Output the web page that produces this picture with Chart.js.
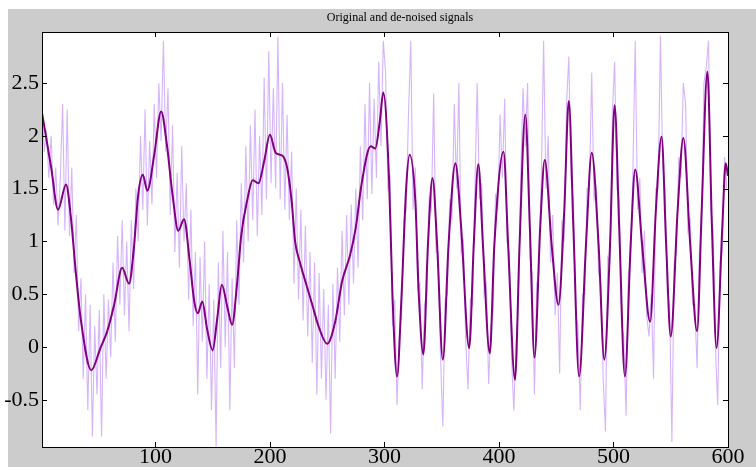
<!DOCTYPE html>
<html>
<head>
<meta charset="utf-8">
<script src="https://cdn.jsdelivr.net/npm/chart.js@4.4.1/dist/chart.umd.min.js"></script>
<style>
  html, body { margin: 0; padding: 0; background: #ffffff; }
  #box { width: 756px; height: 467px; }
</style>
</head>
<body>
<div id="box"><canvas id="sigChart" width="756" height="467"></canvas></div>
<script>
// titles
const chartTitle = 'Original and de-noised signals';

// axis ticks
const xTickValues = [100, 200, 300, 400, 500, 600];
const yTickValues = [-0.5, 0, 0.5, 1, 1.5, 2, 2.5];

// noisy signal, one value every 2 samples starting at 1
const noisyStart = 1;
const noisyStep = 2;
const noisyValues = [
  2.3, 1.85, 2.05, 1.6, 2.0, 1.35, 1.7, 1.15, 1.6, 2.3,
  1.1, 2.25, 1.05, 1.7, 0.7, 1.25, 0.15, 0.65, -0.3, 0.5,
  -0.6, 0.4, -0.85, 0.2, -0.45, 0.35, -0.85, 0.5, -0.3, 0.45,
  -0.1, 0.8, 0.05, 1.05, 0.4, 1.2, 0.3, 1.0, 0.15, 1.2,
  0.55, 1.5, 1.0, 2.0, 1.3, 2.25, 1.15, 1.95, 1.35, 2.3,
  1.6, 2.5, 1.95, 2.9, 1.85, 2.45, 1.25, 2.1, 0.9, 1.65,
  0.75, 1.9, 1.0, 1.55, 0.45, 1.3, 0.2, 0.9, -0.45, 0.85,
  0.05, 1.0, -0.3, 0.6, -0.6, 0.45, -0.95, 0.8, -0.2, 1.1,
  0.0, 0.9, -0.6, 0.65, -0.2, 1.2, 0.4, 1.55, 0.8, 1.9,
  1.0, 2.1, 1.2, 2.25, 1.05, 2.0, 1.25, 2.55, 1.4, 2.8,
  1.55, 2.45, 1.5, 2.94, 1.4, 2.5, 1.3, 2.2, 1.2, 1.85,
  0.6, 1.5, 0.45, 1.3, 0.25, 1.15, 0.1, 0.9, -0.15, 0.8,
  -0.45, 0.7, -0.3, 0.55, -0.5, 0.4, -0.82, 0.6, -0.3, 0.75,
  0.05, 1.1, 0.3, 1.25, 0.4, 1.35, 0.6, 1.5, 0.75, 1.9,
  1.2, 2.3, 1.4, 2.5, 1.45, 2.35, 1.6, 2.7, 1.9, 2.9,
  2.6, 1.5, 1.6, 0.2, 0.45, -0.55, 0.1, 0.3, 1.2, 1.3,
  2.2, 2.9, 1.3, 1.7, 0.55, 0.6, -0.4, 0.4, 0.5, 1.4,
  1.3, 2.4, 0.9, 0.9, -0.1, -0.75, 0.45, 0.5, 1.4, 1.2,
  2.3, 1.5, 2.5, 0.9, 1.0, 0.05, -0.4, 0.45, 0.4, 1.5,
  2.5, 1.4, 1.55, 0.5, 0.6, -0.35, 0.2, 0.35, 1.45, 1.3,
  2.2, 1.6, 2.35, 1.0, 0.9, -0.1, -0.6, 0.05, 0.4, 1.6,
  2.45, 1.9, 2.5, 0.85, 0.7, -0.45, 0.6, 0.7, 1.6, 2.9,
  1.5, 2.0, 0.8, 1.25, 0.3, 0.7, -0.25, 1.2, 1.0, 2.3,
  2.75, 1.6, 1.4, 0.3, 0.2, -0.6, 0.5, 0.5, 1.5, 1.5,
  2.6, 1.4, 1.5, 0.7, 0.6, -0.3, -0.8, 0.85, 0.8, 2.2,
  2.7, 1.5, 1.4, 0.2, 0.1, -0.65, 0.7, 0.8, 1.7, 2.9,
  1.3, 1.6, 0.7, 1.1, 0.3, 0.1, 0.5, -0.3, 1.5, 1.5,
  2.95, 1.7, 1.5, 0.5, 0.4, -0.9, 0.8, 0.9, 1.8, 1.6,
  2.5, 2.3, 1.1, 1.2, 0.4, 0.4, -0.2, 0.9, 1.1, 2.5,
  2.65, 2.9, 1.3, 1.1, 0.0, -0.55, 0.8, 0.9, 1.8, 1.5
];

// de-noised signal, read at its turning points
const denoisedX = [
  1, 9, 15, 22, 26, 31, 35, 44, 52, 58, 64, 71, 77, 81, 85, 89, 93, 99,
  105, 110, 115, 120, 125, 130, 134, 137, 141, 145, 150, 154, 158, 163, 167, 171, 175, 180, 185, 190, 195,
  200, 205, 211, 215, 219, 222, 226, 231, 237, 243, 250, 257, 263, 270, 275, 280, 288, 292, 296, 299,
  304, 307, 311, 315, 319, 322, 327, 330, 334, 338, 342, 346, 351, 356, 362, 367, 374, 378, 382, 386, 392, 396,
  404, 408, 414, 418, 423, 427, 431, 436, 440, 446, 452, 457, 461, 465, 470, 476, 481, 487, 492, 497,
  501, 505, 510, 515, 519, 525, 532, 537, 542, 546, 550, 556, 561, 567, 573, 577, 582, 586, 590, 595, 598, 600
];
const denoisedY = [
  2.22, 1.70, 1.30, 1.54, 1.25, 0.65, 0.25, -0.22, -0.01, 0.15, 0.40, 0.75, 0.60, 0.91, 1.44, 1.63, 1.48, 1.82,
  2.23, 1.92, 1.44, 1.10, 1.21, 0.81, 0.43, 0.32, 0.43, 0.18, -0.03, 0.27, 0.59, 0.37, 0.21, 0.56, 1.06, 1.38, 1.58, 1.55, 1.76,
  2.01, 1.84, 1.81, 1.70, 1.38, 1.00, 0.81, 0.62, 0.40, 0.18, 0.03, 0.24, 0.62, 0.87, 1.13, 1.54, 1.90, 1.88, 2.14, 2.41,
  1.60, 0.50, -0.28, 0.50, 1.51, 1.82, 1.38, 0.50, -0.07, 0.97, 1.60, 0.97, -0.12, 0.97, 1.74, 1.13, -0.01, 0.97, 1.73, 0.97, -0.06, 0.97,
  1.85, 0.97, -0.31, 0.97, 2.20, 1.13, -0.10, 1.13, 1.77, 0.97, 0.40, 1.29, 2.33, 1.13, -0.28, 0.97, 1.84, 0.97, -0.12, 0.97,
  2.29, 1.13, -0.28, 0.97, 1.68, 0.97, 0.24, 1.29, 1.99, 0.97, 0.10, 1.29, 1.98, 0.97, 0.15, 1.29, 2.61, 1.13, -0.01, 1.13, 1.74, 1.62
];

const yMin = -0.947;
const yMax = 2.983;

function build_points(xs, ys)
{
    var pts = [];
    for (var i = 0; i < ys.length; i++) {
        pts.push({ x: xs[i], y: ys[i] });
    }
    return pts;
}

function noisy_points()
{
    var xs = [];
    for (var i = 0; i < noisyValues.length; i++) {
        xs.push(noisyStart + i * noisyStep);
    }
    return build_points(xs, noisyValues);
}

// figure background, white plot box, black frame, inward ticks, title
const matlabLook = {
    id: 'matlabLook',
    beforeDraw: function(chart) {
        var ctx = chart.ctx;
        var a = chart.chartArea;
        ctx.save();
        ctx.fillStyle = '#ffffff';
        ctx.fillRect(0, 0, chart.width, chart.height);
        ctx.fillStyle = '#cccccc';
        ctx.fillRect(8, 9, chart.width - 8, chart.height - 9);
        ctx.fillStyle = '#ffffff';
        ctx.fillRect(a.left, a.top, a.right - a.left, a.bottom - a.top);
        ctx.fillStyle = '#000000';
        ctx.font = '12px "Liberation Serif"';
        ctx.textAlign = 'center';
        ctx.textBaseline = 'middle';
        ctx.fillText(chartTitle, 400, 18);
        ctx.restore();
    },
    afterDatasetsDraw: function(chart) {
        var ctx = chart.ctx;
        var a = chart.chartArea;
        var xs = chart.scales.x;
        var ys = chart.scales.y;
        var len = 5;
        ctx.save();
        ctx.strokeStyle = '#000000';
        ctx.lineWidth = 1;
        ctx.beginPath();
        xTickValues.forEach(function(v) {
            var px = Math.round(xs.getPixelForValue(v)) + 0.5;
            ctx.moveTo(px, a.bottom);
            ctx.lineTo(px, a.bottom - len);
            ctx.moveTo(px, a.top);
            ctx.lineTo(px, a.top + len);
        });
        yTickValues.forEach(function(v) {
            var py = Math.round(ys.getPixelForValue(v)) + 0.5;
            ctx.moveTo(a.left, py);
            ctx.lineTo(a.left + len, py);
            ctx.moveTo(a.right, py);
            ctx.lineTo(a.right - len, py);
        });
        ctx.stroke();
        ctx.strokeRect(Math.round(a.left) + 0.5, Math.round(a.top) + 0.5,
            Math.round(a.right - a.left), Math.round(a.bottom - a.top));
        ctx.restore();
    }
};

var ctx = document.getElementById('sigChart').getContext('2d');
var myChart = new Chart(ctx, {
    type: 'line',
    data: {
        datasets: [{
            label: 'de-noised',
            data: build_points(denoisedX, denoisedY),
            borderColor: '#800080',
            borderWidth: 2,
            pointRadius: 0,
            cubicInterpolationMode: 'monotone',
            fill: false,
            order: 0
        }, {
            label: 'original',
            data: noisy_points(),
            borderColor: 'rgba(200, 155, 248, 0.75)',
            borderWidth: 1.1,
            pointRadius: 0,
            tension: 0,
            fill: false,
            order: 1
        }]
    },
    options: {
        responsive: false,
        animation: false,
        layout: { padding: { left: 0, right: 28, top: 32, bottom: 0 } },
        plugins: {
            legend: { display: false },
            tooltip: { enabled: false },
            title: { display: false }
        },
        scales: {
            x: {
                type: 'linear',
                min: 1,
                max: 600,
                grid: { display: false, drawTicks: false },
                border: { display: false },
                afterBuildTicks: function(scale) {
                    scale.ticks = xTickValues.map(function(v) { return { value: v }; });
                },
                afterFit: function(scale) { scale.height = 20; },
                ticks: {
                    maxRotation: 0,
                    autoSkip: false,
                    padding: -3,
                    color: '#000000',
                    font: { family: 'Liberation Serif', size: 22 },
                    callback: function(v) { return String(v); }
                }
            },
            y: {
                min: yMin,
                max: yMax,
                grid: { display: false, drawTicks: false },
                border: { display: false },
                afterBuildTicks: function(scale) {
                    scale.ticks = yTickValues.map(function(v) { return { value: v }; });
                },
                afterFit: function(scale) { scale.width = 42; },
                ticks: {
                    autoSkip: false,
                    padding: 3,
                    color: '#000000',
                    font: { family: 'Liberation Serif', size: 22 },
                    callback: function(v) { return String(v); }
                }
            }
        }
    },
    plugins: [matlabLook]
});
</script>
</body>
</html>
